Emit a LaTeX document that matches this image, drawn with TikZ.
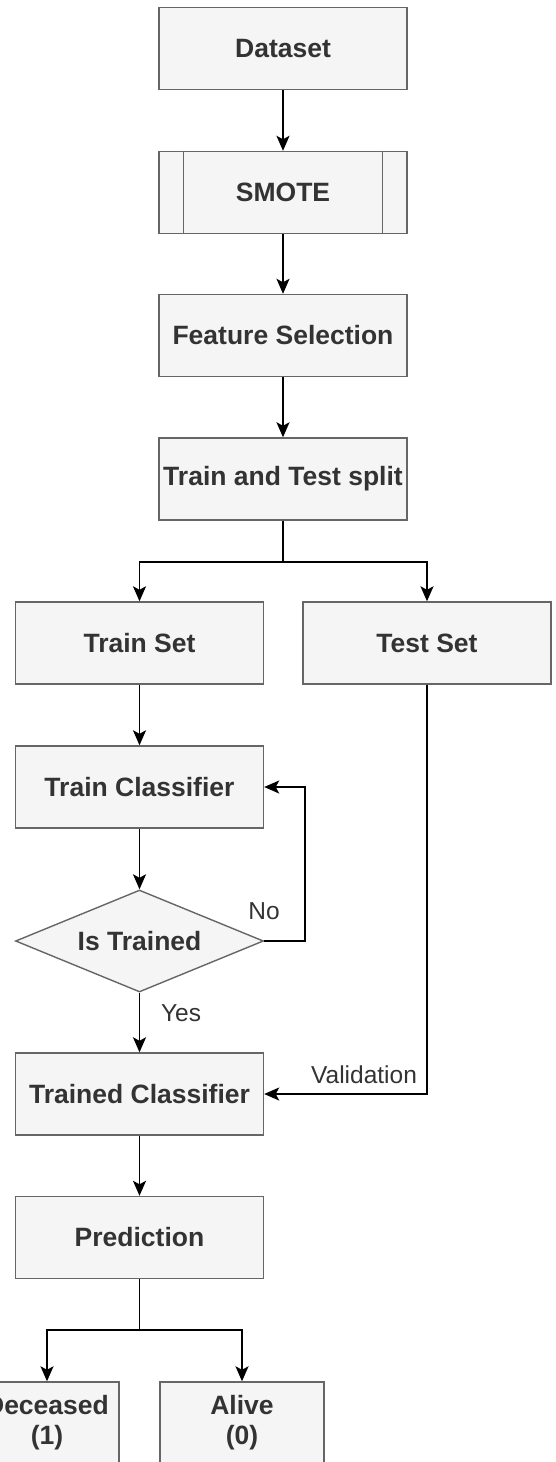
\documentclass[tikz,border=0pt]{standalone}
\usepackage{fontspec}
\setmainfont{Liberation Sans}
\usetikzlibrary{arrows.meta,shapes.geometric}
\definecolor{boxfill}{HTML}{F5F5F5}
\definecolor{boxline}{HTML}{666666}
\definecolor{textcol}{HTML}{333333}
\tikzset{
  stepbox/.style={draw=boxline, fill=boxfill, line width=1.4pt, minimum width=248pt, minimum height=82pt,
    inner sep=0pt, text=textcol, font=\fontsize{26.5}{30}\selectfont\bfseries, align=center},
  smallbox/.style={stepbox, minimum width=164pt},
  decision/.style={draw=boxline, fill=boxfill, line width=1.4pt, shape=diamond, aspect=2.43,
    minimum width=248pt, minimum height=102pt, inner sep=0pt, text=textcol, font=\fontsize{26.5}{30}\selectfont\bfseries},
  arr/.style={line width=1.8pt, draw=black, -{Stealth[length=15pt, width=13pt, inset=3.5pt]}},
  conn/.style={line width=1.8pt, draw=black},
  lbl/.style={text=textcol, font=\fontsize{24.5}{28}\selectfont, inner sep=0pt}
}
\begin{document}
\begin{tikzpicture}[x=1pt, y=-1pt]
\useasboundingbox (0,0) rectangle (555,1462);
\clip (0,0) rectangle (555,1462);
% nodes
\node[stepbox] (dataset) at (283,48.5) {Dataset};
\node[stepbox] (smote) at (283,192.5) {SMOTE};
\draw[boxline, line width=1.4pt] ([xshift=25pt]smote.north west) -- ([xshift=25pt]smote.south west);
\draw[boxline, line width=1.4pt] ([xshift=-25pt]smote.north east) -- ([xshift=-25pt]smote.south east);
\node[stepbox] (feature) at (283,335.5) {Feature Selection};
\node[stepbox] (split) at (283,479) {Train and Test split};
\node[stepbox] (trainset) at (139.5,643) {Train Set};
\node[stepbox] (testset) at (427,643) {Test Set};
\node[stepbox] (trainclf) at (139.5,787) {Train Classifier};
\node[decision] (istrained) at (139.5,941) {Is Trained};
\node[stepbox] (trained) at (139.5,1094) {Trained Classifier};
\node[stepbox] (prediction) at (139.5,1237.5) {Prediction};
\node[stepbox, minimum width=144pt] (deceased) at (47,1423) {Deceased\\(1)};
\node[smallbox] (alive) at (242,1423) {Alive\\(0)};
% helper coordinates
\coordinate (b1) at (283,562);
\coordinate (noc) at (305,941);
\coordinate (b2) at (139.5,1330);
% connectors
\draw[arr] (dataset.south) -- (smote.north);
\draw[arr] (smote.south) -- (feature.north);
\draw[arr] (feature.south) -- (split.north);
\draw[conn] (split.south) -- (b1);
\draw[arr] (b1) -| (trainset.north);
\draw[arr] (b1) -| (testset.north);
\draw[arr] (trainset.south) -- (trainclf.north);
\draw[arr] (trainclf.south) -- (istrained.north);
\draw[arr] (istrained.east) -- (noc) |- (trainclf.east);
\draw[arr] (istrained.south) -- (trained.north);
\draw[arr] (testset.south) |- (trained.east);
\draw[arr] (trained.south) -- (prediction.north);
\draw[conn] (prediction.south) -- (b2);
\draw[arr] (b2) -| (deceased.north);
\draw[arr] (b2) -| (alive.north);
% labels
\node[lbl] (nolbl) at (264,911) {No};
\node[lbl] (yeslbl) at (181,1013) {Yes};
\node[lbl] (vallbl) at (364,1075) {Validation};
\end{tikzpicture}
\end{document}
